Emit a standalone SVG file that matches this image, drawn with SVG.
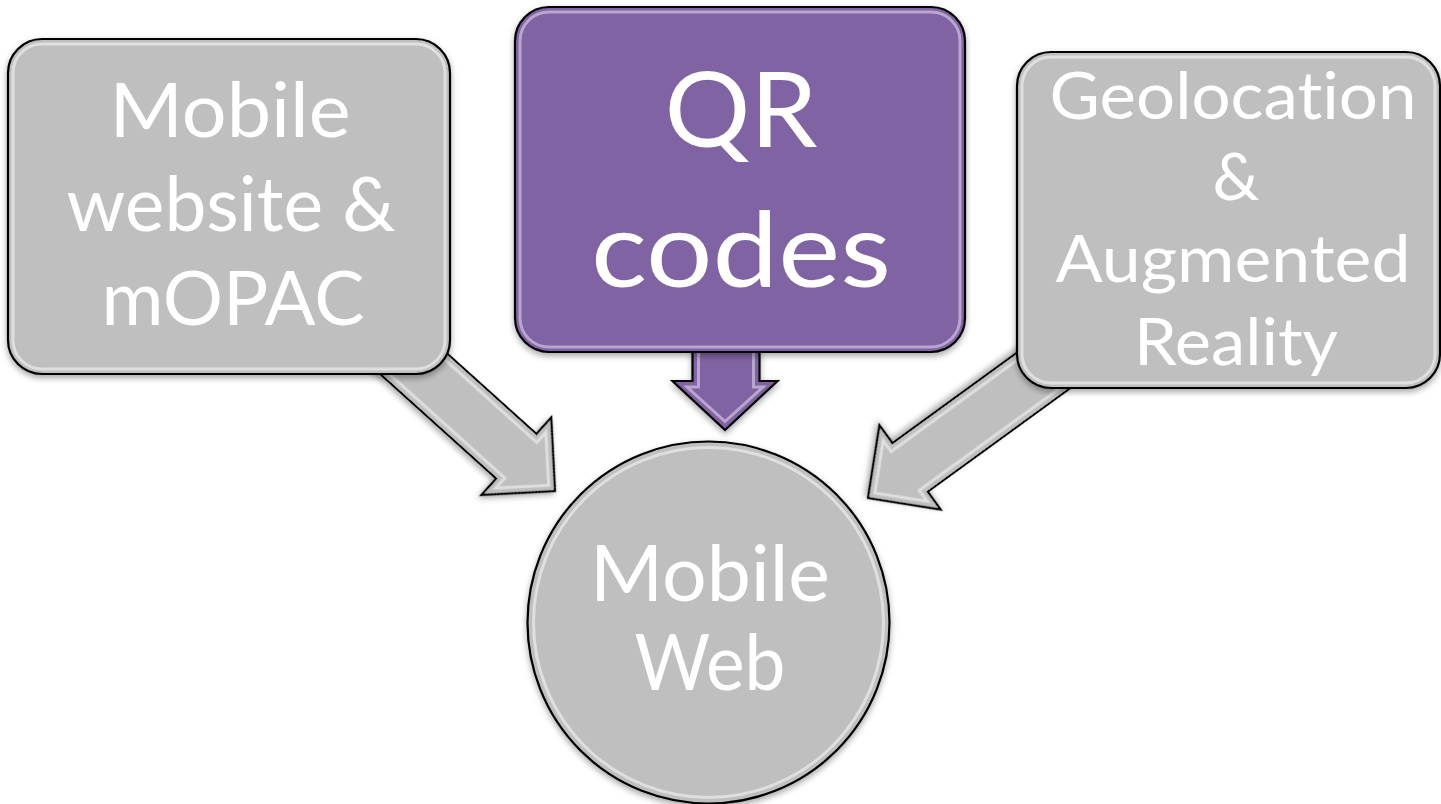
<svg xmlns="http://www.w3.org/2000/svg" width="1441" height="804" viewBox="0 0 1441 804">
  <style>
    .lbl { font-family: Lato, "Liberation Sans", sans-serif; fill: #ffffff; text-anchor: middle; font-variant-ligatures: none; font-feature-settings: "liga" 0, "clig" 0; }
    .gray { fill: #bfbfbf; stroke: #000000; stroke-width: 2.2; }
    .purple { fill: #8064a2; stroke: #000000; stroke-width: 2.2; }
    .gloss { fill: none; stroke: #ffffff; stroke-width: 3; stroke-opacity: 0.5; }
    .glossP { fill: none; stroke: #e6dcf5; stroke-width: 3; stroke-opacity: 0.55; }
  </style>
  <defs>
    <filter id="sh" x="-10%" y="-10%" width="120%" height="130%">
      <feDropShadow dx="0" dy="3" stdDeviation="3" flood-color="#000000" flood-opacity="0.35"/>
    </filter>
  </defs>
  <rect width="1441" height="804" fill="#ffffff"/>

  <g id="connectors">
    <g id="arrow-left" transform="translate(555,491) rotate(42)" filter="url(#sh)">
      <polygon class="gray" points="0,0 -52,-52 -52,-30 -240,-30 -240,30 -52,30 -52,52"/>
      <polygon class="gloss" points="-8.5,0 -46,-37.5 -46,-24 -240,-24 -240,24 -46,24 -46,37.5"/>
    </g>
    <g id="arrow-middle" filter="url(#sh)">
      <polygon class="purple" points="725,430 672.5,381 692.5,381 692.5,330 759.5,330 759.5,381 777.5,381"/>
      <polygon class="glossP" points="725,421.5 687,387 698.5,387 698.5,340 753.5,340 753.5,387 763,387"/>
    </g>
    <g id="arrow-right" transform="translate(868,498) rotate(144)" filter="url(#sh)">
      <polygon class="gray" points="0,0 -52,-52 -52,-30 -250,-30 -250,30 -52,30 -52,52"/>
      <polygon class="gloss" points="-8.5,0 -46,-37.5 -46,-24 -250,-24 -250,24 -46,24 -46,37.5"/>
    </g>
  </g>

  <g id="node-mobile-website" filter="url(#sh)">
    <rect class="gray" x="8" y="39" width="442" height="335" rx="34" ry="34"/>
    <rect class="gloss" x="13" y="44" width="432" height="325" rx="29" ry="29"/>
    <text class="lbl" font-size="75" x="230" y="137" textLength="241" lengthAdjust="spacingAndGlyphs">Mobile</text>
    <text class="lbl" font-size="75" x="231" y="231" textLength="329" lengthAdjust="spacingAndGlyphs">website &amp;</text>
    <text class="lbl" font-size="75" x="233" y="325" textLength="263" lengthAdjust="spacingAndGlyphs">mOPAC</text>
  </g>

  <g id="node-qr-codes" filter="url(#sh)">
    <rect class="purple" x="515" y="7" width="450" height="345" rx="34" ry="34"/>
    <rect class="glossP" x="520" y="12" width="440" height="335" rx="29" ry="29"/>
    <text class="lbl" font-size="105" x="741" y="147" textLength="153" lengthAdjust="spacingAndGlyphs">QR</text>
    <text class="lbl" font-size="105" x="741" y="287" textLength="300" lengthAdjust="spacingAndGlyphs">codes</text>
  </g>

  <g id="node-geolocation" filter="url(#sh)">
    <rect class="gray" x="1017" y="52" width="423" height="336" rx="34" ry="34"/>
    <rect class="gloss" x="1022" y="57" width="413" height="326" rx="29" ry="29"/>
    <text class="lbl" font-size="66" x="1233" y="119" textLength="367" lengthAdjust="spacingAndGlyphs">Geolocation</text>
    <text class="lbl" font-size="66" x="1236" y="200">&amp;</text>
    <text class="lbl" font-size="66" x="1233" y="282" textLength="355" lengthAdjust="spacingAndGlyphs">Augmented</text>
    <text class="lbl" font-size="66" x="1236" y="365" textLength="204" lengthAdjust="spacingAndGlyphs">Reality</text>
  </g>

  <g id="node-mobile-web" filter="url(#sh)">
    <circle class="gray" cx="708.5" cy="622.5" r="181"/>
    <circle class="gloss" cx="708.5" cy="622.5" r="175"/>
    <text class="lbl" font-size="78" x="710" y="601" textLength="240" lengthAdjust="spacingAndGlyphs">Mobile</text>
    <text class="lbl" font-size="78" x="710" y="690" textLength="151" lengthAdjust="spacingAndGlyphs">Web</text>
  </g>
</svg>
